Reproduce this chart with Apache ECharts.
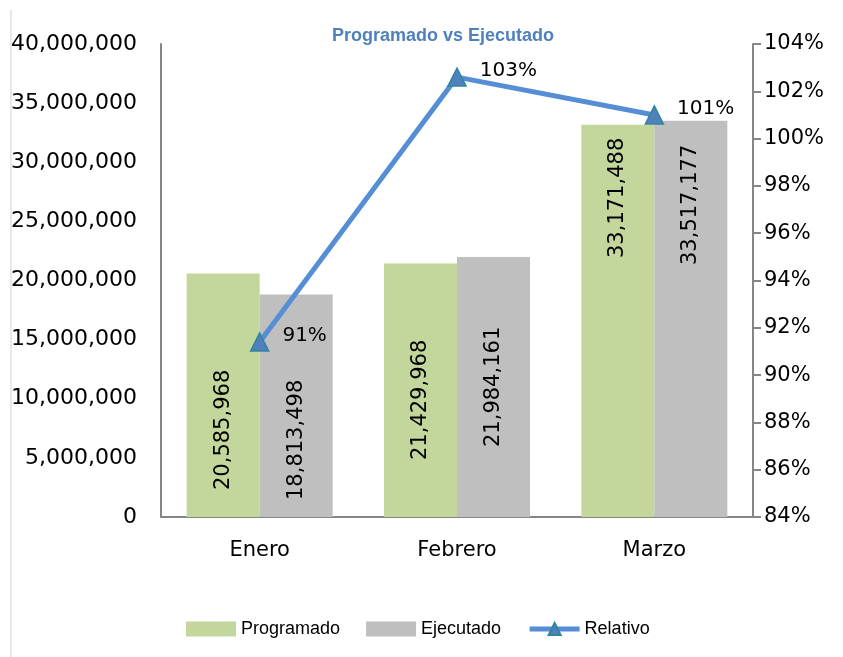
<!DOCTYPE html>
<html>
<head>
<meta charset="utf-8">
<script src="https://cdn.jsdelivr.net/npm/echarts@6/dist/echarts.min.js"></script>
<style>
  html, body { margin: 0; padding: 0; background: #fff; }
  #chart { width: 843px; height: 657px; }
</style>
</head>
<body>
<div id="chart"></div>
<script>
const meses = ['Enero', 'Febrero', 'Marzo'];
const programado = [20585968, 21429968, 33171488];
const ejecutado = [18813498, 21984161, 33517177];
const relativo = [91.4, 102.6, 101.0];

// where the rotated value labels sit above the bar base (px)
const progLift = [27, 57, 259];
const ejecLift = [17, 70, 252];

const font = 'DejaVu Sans';
const fmt = v => v.toLocaleString('en-US');

const myChart = echarts.init(document.getElementById('chart'));

const barLabel = {
  show: true,
  rotate: 90,
  position: 'insideBottom',
  align: 'left',
  verticalAlign: 'middle',
  color: '#000',
  fontFamily: font,
  fontSize: 21,
  formatter: p => fmt(p.value)
};

myChart.setOption({
  animation: false,
  title: {
    text: 'Programado vs Ejecutado',
    left: 327,
    top: 22,
    textStyle: { color: '#4f81bd', fontFamily: 'Liberation Sans', fontSize: 18, fontWeight: 'bold' }
  },
  graphic: [{
    type: 'line',
    shape: { x1: 11, y1: 10, x2: 11, y2: 657 },
    style: { stroke: '#d0d0d0', lineWidth: 1 }
  }],
  legend: {
    top: 615,
    left: 181,
    itemWidth: 50,
    itemHeight: 15,
    itemGap: 26,
    textStyle: { fontFamily: 'Liberation Sans', fontSize: 18, color: '#000' },
    data: [
      { name: 'Programado', icon: 'rect' },
      { name: 'Ejecutado', icon: 'rect' },
      { name: 'Relativo', lineStyle: { width: 5 } }
    ]
  },
  grid: { left: 161, right: 90, top: 44, bottom: 140 },
  xAxis: {
    type: 'category',
    data: meses,
    axisLine: { lineStyle: { color: '#868686', width: 2 } },
    axisTick: { show: false },
    axisLabel: { color: '#000', fontFamily: font, fontSize: 21, margin: 23 }
  },
  yAxis: [{
    type: 'value',
    min: 0,
    max: 40000000,
    interval: 5000000,
    axisLine: { show: true, lineStyle: { color: '#868686', width: 2 } },
    axisTick: { show: false },
    splitLine: { show: false },
    axisLabel: { color: '#000', fontFamily: font, fontSize: 22, margin: 24, formatter: fmt }
  }, {
    type: 'value',
    min: 84,
    max: 104,
    interval: 2,
    position: 'right',
    axisLine: { show: true, lineStyle: { color: '#868686', width: 2 } },
    axisTick: { show: true, length: 8, lineStyle: { color: '#868686', width: 2 } },
    splitLine: { show: false },
    axisLabel: { color: '#000', fontFamily: font, fontSize: 21, margin: 11, formatter: '{value}%' }
  }],
  series: [{
    name: 'Programado',
    type: 'bar',
    barGap: '0%',
    barCategoryGap: '26%',
    itemStyle: { color: '#c3d69b' },
    label: barLabel,
    data: programado.map((v, i) => ({ value: v, label: { distance: progLift[i] } }))
  }, {
    name: 'Ejecutado',
    type: 'bar',
    itemStyle: { color: '#bfbfbf' },
    label: barLabel,
    data: ejecutado.map((v, i) => ({ value: v, label: { distance: ejecLift[i] } }))
  }, {
    name: 'Relativo',
    type: 'line',
    yAxisIndex: 1,
    data: relativo,
    symbol: 'triangle',
    symbolSize: 18,
    lineStyle: { color: '#558ed5', width: 5 },
    itemStyle: { color: '#4f81bd', borderColor: '#31859c', borderWidth: 1.5 },
    label: {
      show: true,
      position: 'right',
      distance: 13,
      offset: [0, -6],
      color: '#000',
      fontFamily: font,
      fontSize: 20,
      formatter: p => Math.round(p.value) + '%'
    },
    z: 5
  }]
});
</script>
</body>
</html>
